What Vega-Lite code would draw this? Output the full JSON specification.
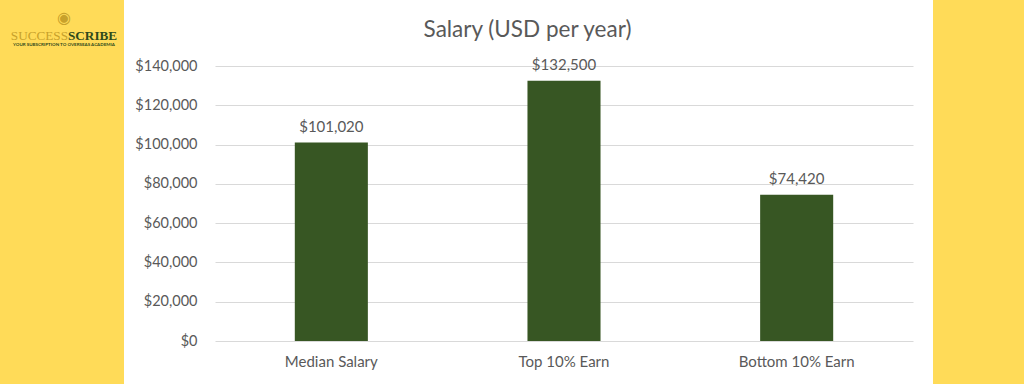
{
  "$schema": "https://vega.github.io/schema/vega-lite/v6.json",
  "background": "white",
  "padding": 0,
  "autosize": {"type": "pad"},
  "config": {
    "font": "Lato",
    "view": {"stroke": null},
    "concat": {"spacing": 0}
  },
  "hconcat": [
    {
      "width": 124,
      "height": 384,
      "view": {"fill": "#FFDB58", "stroke": null},
      "data": {"values": [{"part": "SUCCESS", "kind": "a"}, {"part": "SCRIBE", "kind": "b"}, {"part": "YOUR SUBSCRIPTION TO OVERSEAS ACADEMIA", "kind": "c"}, {"part": "◉", "kind": "d"}]},
      "layer": [
        {
          "transform": [{"filter": "datum.kind === 'a'"}],
          "mark": {"type": "text", "align": "right", "baseline": "alphabetic", "dx": 6, "dy": -152, "font": "Liberation Serif", "fontSize": 13.2, "color": "#C8A12B"},
          "encoding": {"text": {"field": "part"}}
        },
        {
          "transform": [{"filter": "datum.kind === 'b'"}],
          "mark": {"type": "text", "align": "left", "baseline": "alphabetic", "dx": 6, "dy": -152, "font": "Liberation Serif", "fontSize": 13.2, "fontWeight": "bold", "color": "#2F4A1C"},
          "encoding": {"text": {"field": "part"}}
        },
        {
          "transform": [{"filter": "datum.kind === 'c'"}],
          "mark": {"type": "text", "align": "center", "baseline": "alphabetic", "dx": 2, "dy": -146, "fontSize": 4.5, "fontWeight": "bold", "color": "#2F4A1C"},
          "encoding": {"text": {"field": "part"}}
        },
        {
          "transform": [{"filter": "datum.kind === 'd'"}],
          "mark": {"type": "text", "align": "center", "baseline": "middle", "dx": 2, "dy": -174, "font": "DejaVu Sans", "fontSize": 16, "color": "#C8A12B"},
          "encoding": {"text": {"field": "part"}}
        }
      ]
    },
    {
      "spacing": 20,
      "hconcat": [
        {
          "width": 698,
          "height": 341,
          "title": {
            "text": "Salary (USD per year)",
            "fontSize": 22.5,
            "fontWeight": "normal",
            "color": "#595959",
            "anchor": "middle",
            "frame": "bounds",
            "baseline": "alphabetic",
            "dx": 9,
            "offset": -59
          },
          "data": {"values": [
            {"category": "Median Salary", "salary": 101020},
            {"category": "Top 10% Earn", "salary": 132500},
            {"category": "Bottom 10% Earn", "salary": 74420}
          ]},
          "encoding": {
            "x": {
              "field": "category",
              "type": "nominal",
              "sort": null,
              "scale": {"paddingInner": 0.686, "paddingOuter": 0.343},
              "axis": {"title": null, "labelAngle": 0, "domain": false, "ticks": false, "labelPadding": 13, "labelFontSize": 15, "labelColor": "#595959"}
            },
            "y": {
              "field": "salary",
              "type": "quantitative",
              "scale": {"domain": [0, 173600], "nice": false},
              "axis": {"title": null, "values": [0, 20000, 40000, 60000, 80000, 100000, 120000, 140000], "format": "$,.0f", "domain": false, "ticks": false, "labelPadding": 18, "labelFontSize": 14.5, "labelColor": "#595959", "gridColor": "#D9D9D9", "gridWidth": 1, "minExtent": 91}
            }
          },
          "layer": [
            {"mark": {"type": "bar", "color": "#375623"}},
            {
              "mark": {"type": "text", "baseline": "alphabetic", "dy": -11, "fontSize": 15, "color": "#595959"},
              "encoding": {"text": {"field": "salary", "type": "quantitative", "format": "$,.0f"}}
            }
          ]
        },
        {
          "width": 91,
          "height": 384,
          "view": {"fill": "#FFDB58", "stroke": null},
          "data": {"values": [{"t": ""}]},
          "mark": {"type": "text"},
          "encoding": {"text": {"field": "t"}}
        }
      ]
    }
  ]
}
